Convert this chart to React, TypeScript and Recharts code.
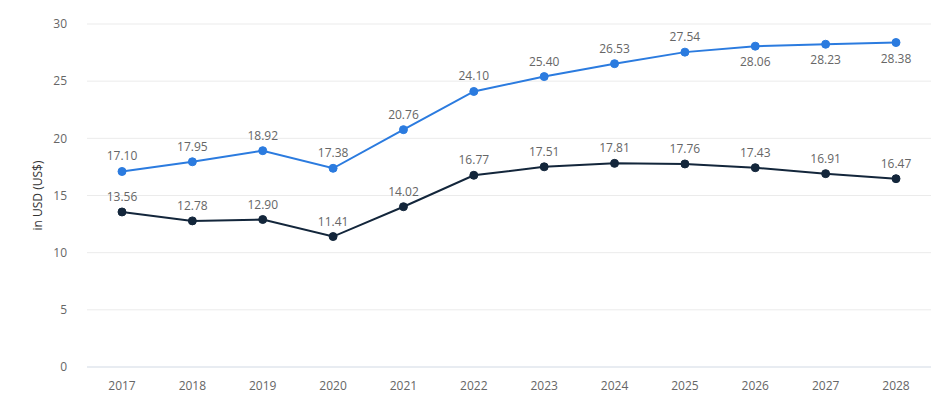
import { LineChart, Line, XAxis, YAxis, CartesianGrid, LabelList } from 'recharts';

const years = ['2017', '2018', '2019', '2020', '2021', '2022', '2023', '2024', '2025', '2026', '2027', '2028'];
const upperSeries = [17.1, 17.95, 18.92, 17.38, 20.76, 24.1, 25.4, 26.53, 27.54, 28.06, 28.23, 28.38];
const lowerSeries = [13.56, 12.78, 12.9, 11.41, 14.02, 16.77, 17.51, 17.81, 17.76, 17.43, 16.91, 16.47];
const yTicks = [0, 5, 10, 15, 20, 25, 30];

const BLUE = '#2b7bdf';
const NAVY = '#13263b';
const FONT = '"Open Sans", "DejaVu Sans", sans-serif';

const data = years.map((year, i) => ({ year, upper: upperSeries[i], lower: lowerSeries[i] }));

// labels: blue ones flip below the point for the last three years
const makeLabel = (below: (i: number) => boolean) => (props: any) => {
  const { x, y, value, index } = props;
  const dy = below(index) ? 20 : -11;
  return (
    <text x={x} y={y + dy} textAnchor="middle" fontSize={12} fill="#666" fontFamily={FONT}>
      {Number(value).toFixed(2)}
    </text>
  );
};

export default function App() {
  return (
    <div style={{ position: 'absolute', left: 0, top: 0, width: 940, height: 400, background: '#fff' }}>
      <LineChart width={940} height={400} data={data} margin={{ top: 24, right: 9, bottom: 3, left: 0 }}>
        <CartesianGrid vertical={false} stroke="#ebebeb" />
        <XAxis
          dataKey="year"
          padding={{ left: 35, right: 35 }}
          tickLine={false}
          axisLine={{ stroke: '#dbe3ee' }}
          tick={{ fontSize: 12, fill: '#666', fontFamily: FONT }}
          tickMargin={8}
          height={30}
        />
        <YAxis
          domain={[0, 30]}
          ticks={yTicks}
          axisLine={false}
          tickLine={false}
          width={87}
          tick={{ fontSize: 12, fill: '#666', fontFamily: FONT }}
          tickMargin={14}
          label={{
            value: 'in USD (US$)',
            angle: -90,
            position: 'insideLeft',
            offset: 38,
            style: { textAnchor: 'middle', fontSize: 12, fill: '#333', fontFamily: FONT },
          }}
        />
        <Line
          type="linear"
          dataKey="upper"
          stroke={BLUE}
          strokeWidth={2}
          dot={{ r: 4, fill: BLUE, stroke: BLUE, strokeWidth: 1 }}
          isAnimationActive={false}
        >
          <LabelList dataKey="upper" content={makeLabel((i) => i >= 9)} />
        </Line>
        <Line
          type="linear"
          dataKey="lower"
          stroke={NAVY}
          strokeWidth={2}
          dot={{ r: 4, fill: NAVY, stroke: NAVY, strokeWidth: 1 }}
          isAnimationActive={false}
        >
          <LabelList dataKey="lower" content={makeLabel(() => false)} />
        </Line>
      </LineChart>
    </div>
  );
}
